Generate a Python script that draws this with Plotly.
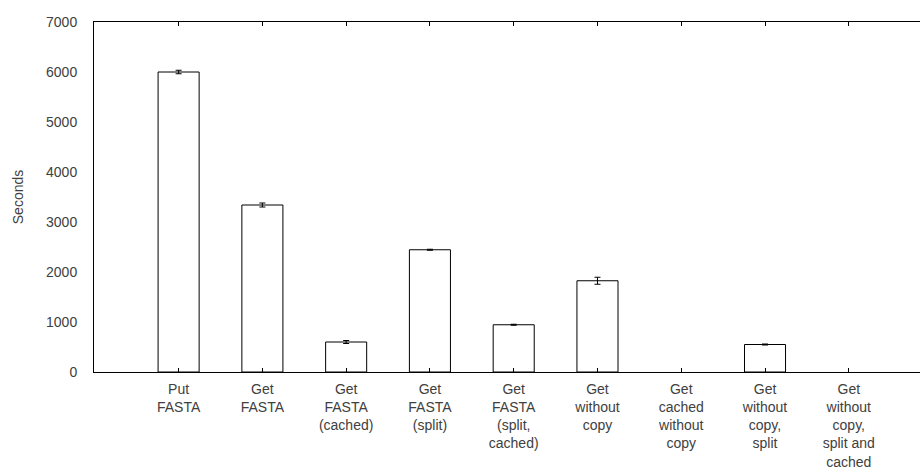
import plotly.graph_objects as go

categories = [
    "Put<br>FASTA",
    "Get<br>FASTA",
    "Get<br>FASTA<br>(cached)",
    "Get<br>FASTA<br>(split)",
    "Get<br>FASTA<br>(split,<br>cached)",
    "Get<br>without<br>copy",
    "Get<br>cached<br>without<br>copy",
    "Get<br>without<br>copy,<br>split",
    "Get<br>without<br>copy,<br>split and<br>cached",
]
seconds = [6000, 3340, 600, 2445, 945, 1825, None, 550, None]
errors = [35, 40, 30, 10, 10, 70, 0, 10, 0]
y_ticks = [0, 1000, 2000, 3000, 4000, 5000, 6000, 7000]

positions = list(range(len(categories)))

fig = go.Figure()
fig.add_trace(go.Bar(
    x=positions,
    y=seconds,
    width=0.49,
    marker=dict(color="white", line=dict(color="black", width=1)),
    error_y=dict(type="data", array=errors, visible=True,
                 color="black", thickness=1, width=3),
    showlegend=False,
))

fig.update_layout(
    width=920, height=469,
    margin=dict(l=94, r=0, t=22, b=97),
    plot_bgcolor="white", paper_bgcolor="white",
    font=dict(family="Liberation Sans, Arial, sans-serif", size=14, color="#404040"),
    xaxis=dict(
        range=[-1.01, 8.85],
        tickmode="array", tickvals=positions, ticktext=categories,
        ticks="inside", ticklen=4, tickcolor="black",
        showline=True, linecolor="black", linewidth=1, mirror="allticks",
        showgrid=False, zeroline=False, tickangle=0,
        ticklabelstandoff=4,
        tickfont=dict(size=14),
    ),
    yaxis=dict(
        range=[0, 7000],
        tickmode="array", tickvals=y_ticks,
        ticks="", showline=True, linecolor="black", linewidth=1,
        showgrid=False, zeroline=False,
        ticklabelstandoff=13,
        tickfont=dict(size=14),
        title=dict(text="Seconds", standoff=19, font=dict(size=14, color="#404040")),
    ),
)

fig.write_html("out.html")
